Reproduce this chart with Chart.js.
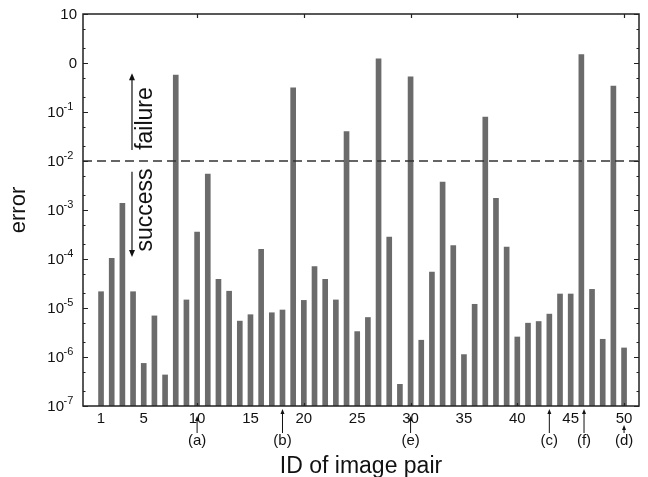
<!DOCTYPE html>
<html>
<head>
<meta charset="utf-8">
<script src="https://cdn.jsdelivr.net/npm/chart.js@4.4.1/dist/chart.umd.min.js"></script>
<style>
  html, body { margin: 0; padding: 0; background: #fff; }
  #wrap { width: 648px; height: 477px; }
</style>
</head>
<body>
<div id="wrap"><canvas id="chart" width="648" height="477"></canvas></div>
<script>
// image pair IDs and the error for each pair
const pairIds = [
   1,  2,  3,  4,  5,  6,  7,  8,  9, 10,
  11, 12, 13, 14, 15, 16, 17, 18, 19, 20,
  21, 22, 23, 24, 25, 26, 27, 28, 29, 30,
  31, 32, 33, 34, 35, 36, 37, 38, 39, 40,
  41, 42, 43, 44, 45, 46, 47, 48, 49, 50
];
const errors = [
  2.15e-5, 1.03e-4, 1.37e-3, 2.15e-5, 7.4e-7, 6.9e-6, 4.3e-7, 0.57, 1.46e-5, 3.56e-4,
  5.4e-3, 3.85e-5, 2.2e-5, 5.4e-6, 7.3e-6, 1.57e-4, 8.0e-6, 9.1e-6, 0.31, 1.43e-5,
  7.0e-5, 3.85e-5, 1.46e-5, 0.040, 3.3e-6, 6.4e-6, 1.22, 2.8e-4, 2.77e-7, 0.52,
  2.2e-6, 5.4e-5, 3.7e-3, 1.87e-4, 1.12e-6, 1.19e-5, 0.079, 1.73e-3, 1.76e-4, 2.56e-6,
  4.9e-6, 5.3e-6, 7.5e-6, 1.93e-5, 1.93e-5, 1.48, 2.4e-5, 2.3e-6, 0.34, 1.53e-6
];

const xTicks = [1, 5, 10, 15, 20, 25, 30, 35, 40, 45, 50];
const xFrameTicks = [10, 20, 30, 40, 50];
const yDecades = [10, 1, 0.1, 0.01, 1e-3, 1e-4, 1e-5, 1e-6, 1e-7];
const yDecadeBase = ['10', '0', '10', '10', '10', '10', '10', '10', '10'];
const yDecadeExp = ['', '', '-1', '-2', '-3', '-4', '-5', '-6', '-7'];
const yMinorFactors = [2, 5];

const threshold = 1e-2;

// marked pairs under the x axis
const markIds = [10, 18, 30, 43, 46.25, 50];
const markLabels = ['(a)', '(b)', '(e)', '(c)', '(f)', '(d)'];

const FONT = '"Liberation Sans", Arial, Helvetica, sans-serif';

const yTickValues = [];
yDecades.forEach(d => {
  yTickValues.push(d);
  if (d < 10) yMinorFactors.forEach(f => yTickValues.push(d * f));
});

function isDecade(v) {
  const l = Math.log10(v);
  return Math.abs(l - Math.round(l)) < 1e-9;
}

function arrow(ctx, x, y0, y1, head, half) {
  // line from y0 to y1, arrow head at y1
  const dir = y1 < y0 ? 1 : -1;
  ctx.beginPath();
  ctx.moveTo(x, y0);
  ctx.lineTo(x, y1 + dir * head * 0.8);
  ctx.stroke();
  ctx.beginPath();
  ctx.moveTo(x, y1);
  ctx.lineTo(x - half, y1 + dir * head);
  ctx.lineTo(x + half, y1 + dir * head);
  ctx.closePath();
  ctx.fill();
}

const decorations = {
  id: 'decorations',
  afterDatasetsDraw(chart) {
    const { ctx, chartArea: a, scales: { x, y } } = chart;
    ctx.save();

    // threshold line
    const ty = y.getPixelForValue(threshold);
    ctx.strokeStyle = '#333';
    ctx.lineWidth = 1.5;
    ctx.setLineDash([9, 5]);
    ctx.beginPath();
    ctx.moveTo(a.left, ty);
    ctx.lineTo(a.right, ty);
    ctx.stroke();
    ctx.setLineDash([]);

    // frame
    ctx.strokeStyle = '#222';
    ctx.lineWidth = 1.5;
    ctx.strokeRect(a.left, a.top, a.right - a.left, a.bottom - a.top);

    // inward tick marks
    ctx.lineWidth = 1.2;
    y.ticks.forEach(t => {
      const py = Math.round(y.getPixelForValue(t.value)) + 0.5;
      const len = isDecade(t.value) ? 5 : 2.5;
      ctx.beginPath();
      ctx.moveTo(a.left, py); ctx.lineTo(a.left + len, py);
      ctx.moveTo(a.right, py); ctx.lineTo(a.right - len, py);
      ctx.stroke();
    });
    xFrameTicks.forEach(v => {
      const px = Math.round(x.getPixelForValue(v)) + 0.5;
      ctx.beginPath();
      ctx.moveTo(px, a.top); ctx.lineTo(px, a.top + 4);
      ctx.moveTo(px, a.bottom); ctx.lineTo(px, a.bottom - 3);
      ctx.stroke();
    });

    // y tick labels with superscript exponents
    ctx.fillStyle = '#111';
    ctx.textBaseline = 'middle';
    yDecades.forEach((v, i) => {
      const py = y.getPixelForValue(v);
      const exp = yDecadeExp[i];
      ctx.font = '15px ' + FONT;
      ctx.textAlign = 'right';
      if (exp) {
        ctx.fillText(yDecadeBase[i], a.left - 19, py + 1);
        ctx.font = '11px ' + FONT;
        ctx.textAlign = 'left';
        ctx.fillText(exp, a.left - 19.5, py - 5.5);
      } else {
        ctx.fillText(yDecadeBase[i], a.left - 6, py + 1);
      }
    });

    // failure / success annotation
    const ax = x.getPixelForValue(3.9);
    ctx.fillStyle = '#111';
    ctx.strokeStyle = '#111';
    ctx.lineWidth = 1.2;
    arrow(ctx, ax, y.getPixelForValue(0.0167), y.getPixelForValue(0.62), 7, 3);
    arrow(ctx, ax, y.getPixelForValue(0.006), y.getPixelForValue(1.1e-4), 7, 3);
    const tx = x.getPixelForValue(5.75);
    ctx.font = '23px ' + FONT;
    ctx.textAlign = 'center';
    ctx.textBaseline = 'alphabetic';
    [['failure', 0.0736], ['success', 1e-3]].forEach(([txt, v]) => {
      ctx.save();
      ctx.translate(tx, y.getPixelForValue(v));
      ctx.rotate(-Math.PI / 2);
      ctx.fillText(txt, 0, 0);
      ctx.restore();
    });

    // marked pairs below the axis
    ctx.lineWidth = 1;
    ctx.font = '15px ' + FONT;
    ctx.textBaseline = 'middle';
    markIds.forEach((id, i) => {
      const px = x.getPixelForValue(id);
      const onLabel = xTicks.includes(Math.round(id)) && Number.isInteger(id);
      const tip = id === 50 ? 425 : (onLabel ? 416 : a.bottom + 3);
      arrow(ctx, px, 433, tip, 5, 2);
      ctx.fillText(markLabels[i], px, 441);
    });

    ctx.restore();
  }
};

new Chart(document.getElementById('chart'), {
  type: 'bar',
  data: {
    datasets: [{
      data: pairIds.map((id, i) => ({ x: id, y: errors[i] })),
      backgroundColor: '#6b6b6b',
      borderWidth: 0,
      barThickness: 5
    }]
  },
  options: {
    responsive: false,
    animation: false,
    devicePixelRatio: 1,
    layout: { padding: { top: 14, right: 9, left: 0, bottom: 0 } },
    plugins: { legend: { display: false }, tooltip: { enabled: false } },
    scales: {
      x: {
        type: 'linear',
        min: -0.69,
        max: 51.4,
        offset: false,
        grid: { display: false, drawTicks: false },
        border: { display: false },
        afterBuildTicks: s => { s.ticks = xTicks.map(v => ({ value: v })); },
        afterFit: s => { s.height = 71; },
        ticks: {
          autoSkip: false, maxRotation: 0, padding: 4,
          color: '#111', font: { family: FONT, size: 15 },
          callback: v => String(v)
        },
        title: {
          display: true, text: 'ID of image pair', color: '#111',
          font: { family: FONT, size: 23 }, padding: { top: 0, bottom: -3 }
        }
      },
      y: {
        type: 'logarithmic',
        min: 1e-7,
        max: 10,
        grid: { display: false, drawTicks: false },
        border: { display: false },
        afterBuildTicks: s => { s.ticks = yTickValues.map(v => ({ value: v })); },
        afterFit: s => { s.width = 83; },
        ticks: { display: false },
        title: {
          display: true, text: 'error', color: '#111',
          font: { family: FONT, size: 22 }, padding: { top: 6, bottom: 0 }
        }
      }
    }
  },
  plugins: [decorations]
});
</script>
</body>
</html>
